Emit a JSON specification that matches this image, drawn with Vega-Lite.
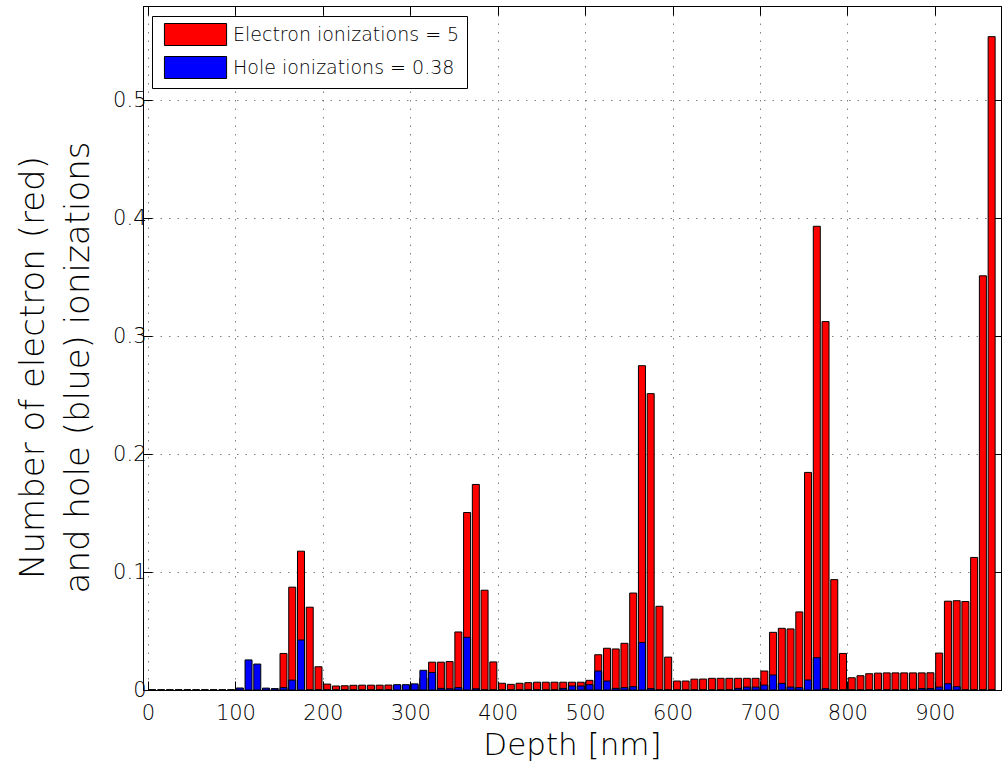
{
  "$schema": "https://vega.github.io/schema/vega-lite/v6.json",
  "width": 858,
  "height": 684,
  "autosize": {"type": "none"},
  "padding": {"left": 143, "top": 6, "right": 1, "bottom": 73},
  "background": "white",
  "config": {
    "font": "DejaVu Sans",
    "view": {"stroke": "black", "strokeWidth": 1},
    "axis": {
      "domainColor": "black",
      "domainWidth": 1,
      "tickColor": "black",
      "tickWidth": 1,
      "tickSize": -9,
      "labelFont": "DejaVu Sans",
      "labelFontWeight": 200,
      "labelFontSize": 21,
      "labelColor": "black",
      "titleFont": "DejaVu Sans",
      "titleFontWeight": 200,
      "titleColor": "black",
      "grid": true,
      "gridColor": "#808080",
      "gridDash": [1.5, 7],
      "gridWidth": 1
    },
    "legend": {
      "orient": "none",
      "legendX": 9,
      "legendY": 10,
      "fillColor": "white",
      "strokeColor": "black",
      "strokeWidth": 1,
      "padding": 7,
      "rowPadding": 6,
      "symbolType": "M-0.55,-1H5.1V1H-0.55Z",
      "symbolSize": 484,
      "symbolStrokeColor": "black",
      "symbolStrokeWidth": 1,
      "symbolOpacity": 1,
      "labelOffset": 51,
      "labelLimit": 0,
      "labelFont": "DejaVu Sans",
      "labelFontWeight": 200,
      "labelFontSize": 19,
      "labelColor": "black",
      "title": null
    }
  },
  "data": {
    "values": [
      {"depth": 5, "electron": 0, "hole": 0},
      {"depth": 15, "electron": 0, "hole": 0},
      {"depth": 25, "electron": 0, "hole": 0},
      {"depth": 35, "electron": 0, "hole": 0},
      {"depth": 45, "electron": 0, "hole": 0},
      {"depth": 55, "electron": 0, "hole": 0},
      {"depth": 65, "electron": 0, "hole": 0},
      {"depth": 75, "electron": 0, "hole": 0},
      {"depth": 85, "electron": 0, "hole": 0},
      {"depth": 95, "electron": 0, "hole": 0},
      {"depth": 105, "electron": 0, "hole": 0.0017},
      {"depth": 115, "electron": 0, "hole": 0.0255},
      {"depth": 125, "electron": 0, "hole": 0.022},
      {"depth": 135, "electron": 0, "hole": 0.0016},
      {"depth": 145, "electron": 0, "hole": 0.0012},
      {"depth": 155, "electron": 0.031, "hole": 0.002},
      {"depth": 165, "electron": 0.0872, "hole": 0.0084},
      {"depth": 175, "electron": 0.1177, "hole": 0.0424},
      {"depth": 185, "electron": 0.0702, "hole": 0},
      {"depth": 195, "electron": 0.0197, "hole": 0},
      {"depth": 205, "electron": 0.005, "hole": 0},
      {"depth": 215, "electron": 0.0034, "hole": 0},
      {"depth": 225, "electron": 0.0036, "hole": 0},
      {"depth": 235, "electron": 0.004, "hole": 0},
      {"depth": 245, "electron": 0.0041, "hole": 0},
      {"depth": 255, "electron": 0.0041, "hole": 0},
      {"depth": 265, "electron": 0.0041, "hole": 0},
      {"depth": 275, "electron": 0.0042, "hole": 0},
      {"depth": 285, "electron": 0.004, "hole": 0.0045},
      {"depth": 295, "electron": 0.004, "hole": 0.0045},
      {"depth": 305, "electron": 0.004, "hole": 0.0052},
      {"depth": 315, "electron": 0.01, "hole": 0.0167},
      {"depth": 325, "electron": 0.0236, "hole": 0.0148},
      {"depth": 335, "electron": 0.0236, "hole": 0.0014},
      {"depth": 345, "electron": 0.0241, "hole": 0.001},
      {"depth": 355, "electron": 0.0492, "hole": 0.002},
      {"depth": 365, "electron": 0.1505, "hole": 0.0447},
      {"depth": 375, "electron": 0.1743, "hole": 0.001},
      {"depth": 385, "electron": 0.0846, "hole": 0},
      {"depth": 395, "electron": 0.0238, "hole": 0},
      {"depth": 405, "electron": 0.0057, "hole": 0},
      {"depth": 415, "electron": 0.0048, "hole": 0},
      {"depth": 425, "electron": 0.0057, "hole": 0},
      {"depth": 435, "electron": 0.0062, "hole": 0},
      {"depth": 445, "electron": 0.0066, "hole": 0},
      {"depth": 455, "electron": 0.0066, "hole": 0},
      {"depth": 465, "electron": 0.0066, "hole": 0},
      {"depth": 475, "electron": 0.0066, "hole": 0.0014},
      {"depth": 485, "electron": 0.0066, "hole": 0.0034},
      {"depth": 495, "electron": 0.0066, "hole": 0.0034},
      {"depth": 505, "electron": 0.0082, "hole": 0.0045},
      {"depth": 515, "electron": 0.0299, "hole": 0.0161},
      {"depth": 525, "electron": 0.0354, "hole": 0.0076},
      {"depth": 535, "electron": 0.0348, "hole": 0.0014},
      {"depth": 545, "electron": 0.0396, "hole": 0.002},
      {"depth": 555, "electron": 0.0822, "hole": 0.0028},
      {"depth": 565, "electron": 0.275, "hole": 0.0402},
      {"depth": 575, "electron": 0.2513, "hole": 0.0011},
      {"depth": 585, "electron": 0.071, "hole": 0},
      {"depth": 595, "electron": 0.0279, "hole": 0},
      {"depth": 605, "electron": 0.0076, "hole": 0},
      {"depth": 615, "electron": 0.0076, "hole": 0},
      {"depth": 625, "electron": 0.0092, "hole": 0},
      {"depth": 635, "electron": 0.0093, "hole": 0},
      {"depth": 645, "electron": 0.0099, "hole": 0},
      {"depth": 655, "electron": 0.0099, "hole": 0},
      {"depth": 665, "electron": 0.0099, "hole": 0},
      {"depth": 675, "electron": 0.0099, "hole": 0.0014},
      {"depth": 685, "electron": 0.0099, "hole": 0.0025},
      {"depth": 695, "electron": 0.0099, "hole": 0.0025},
      {"depth": 705, "electron": 0.0161, "hole": 0.0042},
      {"depth": 715, "electron": 0.0489, "hole": 0.0127},
      {"depth": 725, "electron": 0.0523, "hole": 0.0056},
      {"depth": 735, "electron": 0.0518, "hole": 0.0025},
      {"depth": 745, "electron": 0.0662, "hole": 0.002},
      {"depth": 755, "electron": 0.1845, "hole": 0.0085},
      {"depth": 765, "electron": 0.3932, "hole": 0.0274},
      {"depth": 775, "electron": 0.3124, "hole": 0.0011},
      {"depth": 785, "electron": 0.0936, "hole": 0},
      {"depth": 795, "electron": 0.031, "hole": 0},
      {"depth": 805, "electron": 0.0104, "hole": 0},
      {"depth": 815, "electron": 0.0121, "hole": 0},
      {"depth": 825, "electron": 0.0138, "hole": 0},
      {"depth": 835, "electron": 0.0143, "hole": 0},
      {"depth": 845, "electron": 0.0145, "hole": 0},
      {"depth": 855, "electron": 0.0145, "hole": 0},
      {"depth": 865, "electron": 0.0145, "hole": 0},
      {"depth": 875, "electron": 0.0145, "hole": 0.0006},
      {"depth": 885, "electron": 0.0145, "hole": 0.0012},
      {"depth": 895, "electron": 0.0146, "hole": 0.0012},
      {"depth": 905, "electron": 0.0313, "hole": 0.0025},
      {"depth": 915, "electron": 0.0753, "hole": 0.0053},
      {"depth": 925, "electron": 0.0757, "hole": 0.0028},
      {"depth": 935, "electron": 0.075, "hole": 0},
      {"depth": 945, "electron": 0.1124, "hole": 0},
      {"depth": 955, "electron": 0.3512, "hole": 0},
      {"depth": 965, "electron": 0.554, "hole": 0}
    ]
  },
  "layer": [
    {
      "mark": {"type": "bar", "size": 7, "stroke": "black", "strokeWidth": 1},
      "encoding": {
        "x": {
          "field": "depth",
          "type": "quantitative",
          "scale": {"domain": [0, 970], "nice": false, "zero": false},
          "axis": {
            "values": [0, 100, 200, 300, 400, 500, 600, 700, 800, 900],
            "title": "Depth [nm]",
            "titleFontSize": 31,
            "titleBaseline": "alphabetic",
            "titleY": 64,
            "labelPadding": 21
          }
        },
        "y": {
          "field": "electron",
          "type": "quantitative",
          "scale": {"domain": [0, 0.58], "nice": false},
          "axis": {
            "values": [0, 0.1, 0.2, 0.3, 0.4, 0.5],
            "format": "~g",
            "title": ["Number of electron (red)", "and hole (blue) ionizations"],
            "titleFontSize": 34,
            "titleLineHeight": 45,
            "titleBaseline": "alphabetic",
            "titleX": -100,
            "titleY": 361,
            "labelPadding": 6
          }
        },
        "color": {
          "datum": "Electron ionizations = 5",
          "scale": {
            "domain": ["Electron ionizations = 5", "Hole ionizations = 0.38"],
            "range": ["#ff0000", "#0000ff"]
          }
        }
      }
    },
    {
      "mark": {"type": "bar", "size": 7, "stroke": "black", "strokeWidth": 1},
      "encoding": {
        "x": {"field": "depth", "type": "quantitative", "axis": null},
        "y": {"field": "hole", "type": "quantitative", "axis": null},
        "color": {"datum": "Hole ionizations = 0.38"}
      }
    },
    {
      "mark": {"type": "point", "opacity": 0},
      "encoding": {
        "x": {
          "field": "depth",
          "type": "quantitative",
          "axis": {
            "orient": "top",
            "values": [0, 100, 200, 300, 400, 500, 600, 700, 800, 900],
            "labels": false,
            "grid": false,
            "title": null
          }
        },
        "y": {
          "field": "electron",
          "type": "quantitative",
          "axis": {
            "orient": "right",
            "values": [0, 0.1, 0.2, 0.3, 0.4, 0.5],
            "labels": false,
            "grid": false,
            "title": null
          }
        }
      }
    }
  ],
  "resolve": {"axis": {"x": "independent", "y": "independent"}}
}
